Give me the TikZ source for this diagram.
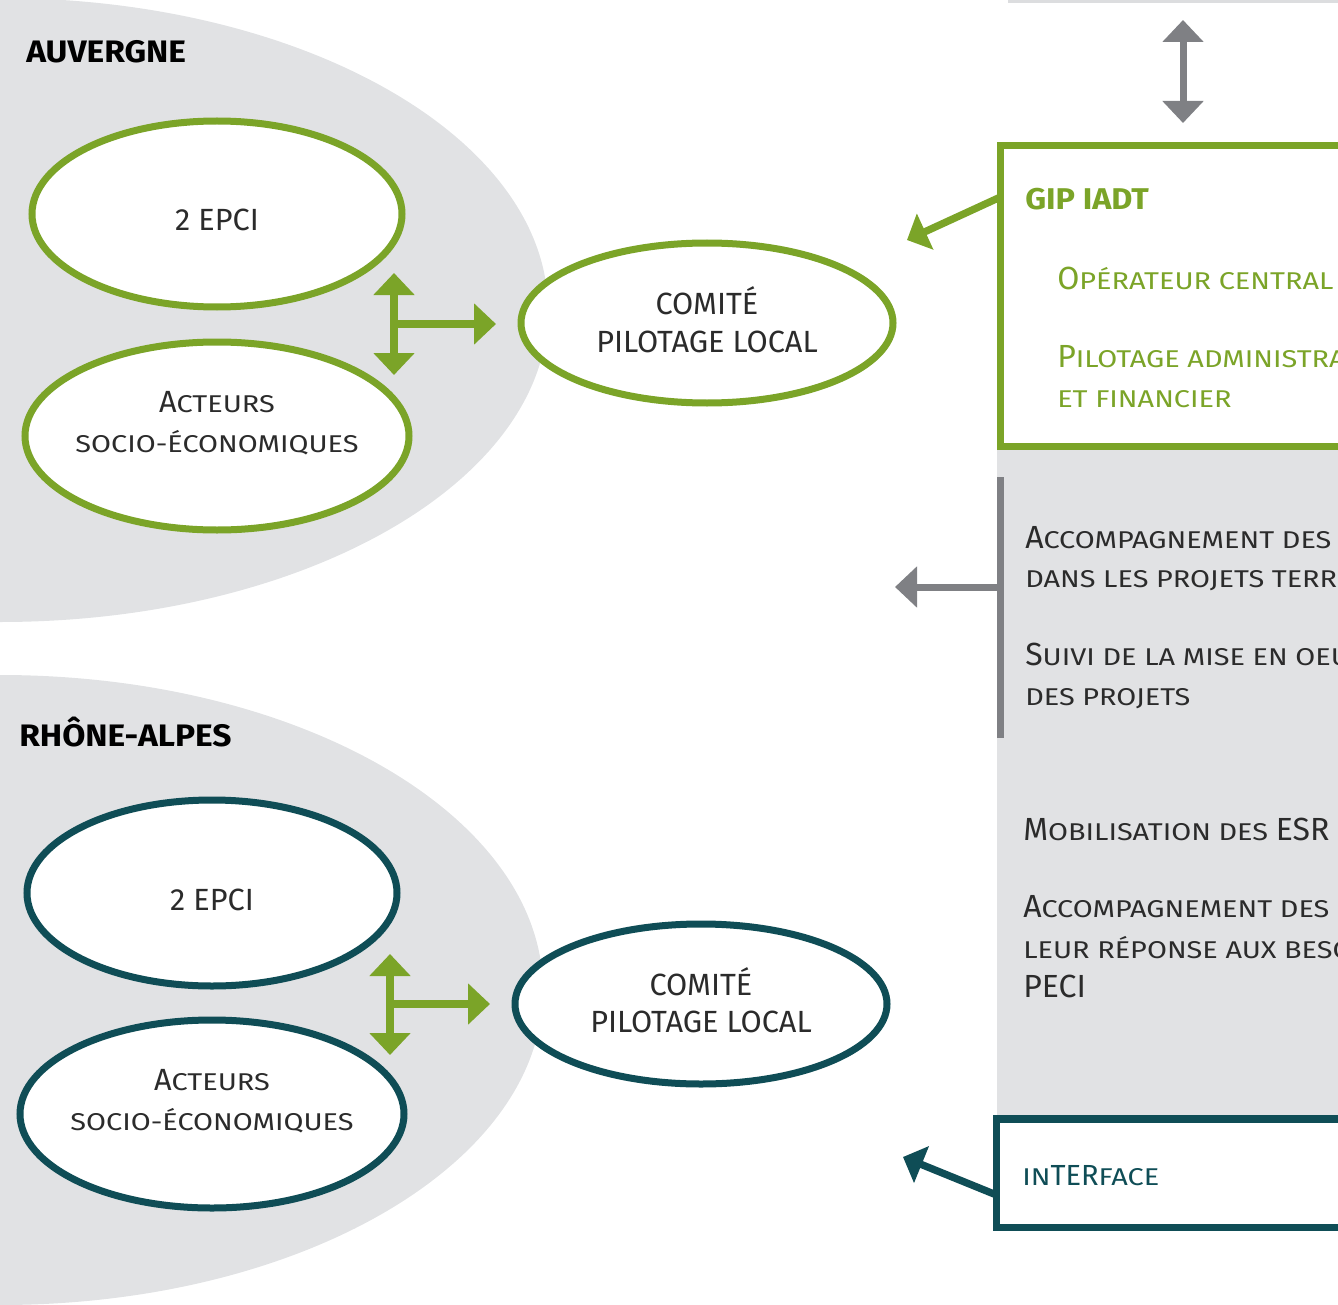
\documentclass[tikz,border=0pt]{standalone}
\usepackage{fontspec}
\setmainfont{Fira Sans}
\newfontfamily\scf[FakeStretch=1.19]{Fira Sans}
\newfontfamily\bdf[FakeStretch=1.08]{Fira Sans}
\usetikzlibrary{arrows.meta,shapes.geometric}
\definecolor{grn}{HTML}{7BA428}
\definecolor{tealc}{HTML}{0F4D56}
\definecolor{blobc}{HTML}{E1E2E4}
\definecolor{garrc}{HTML}{7F8084}
\definecolor{txt}{HTML}{2B2B2B}
\newcommand\ebig{\rmfamily\fontsize{23}{29}\selectfont}
\newcommand\esm{\scf\fontsize{18.2}{29}\selectfont}
\newcommand\rbig{\rmfamily\fontsize{24}{29}\selectfont}
\newcommand\rsm{\scf\fontsize{18.2}{29}\selectfont}
\tikzset{
  bigtip/.tip={Triangle[length=16.5pt, width=30pt]},
  medtip/.tip={Triangle[length=15pt, width=29pt]},
  ell/.style={ellipse, line width=5.25pt, fill=white, inner sep=0pt, outer sep=0pt},
  ellA/.style={ell, draw=grn, minimum width=277.5pt, minimum height=139.5pt},
  ellB/.style={ell, draw=grn, minimum width=288pt, minimum height=141pt},
  ellC/.style={ell, draw=grn, minimum width=279pt, minimum height=120pt},
  etext/.style={anchor=base, text=txt, inner sep=0pt, font=\ebig},
  rtext/.style={anchor=base west, text=txt, inner sep=0pt},
  gtext/.style={anchor=base west, text=grn, inner sep=0pt},
  regionlabel/.style={anchor=base west, text=black, inner sep=0pt, font=\bdf\bfseries\fontsize{23.3}{28}\selectfont},
  grnarrow/.style={draw=grn, line width=6pt},
  grayarrow/.style={draw=garrc, line width=5.25pt},
  boxnode/.style={rectangle, inner sep=0pt, outer sep=0pt, fill=white, anchor=north west, minimum width=300pt}
}
\begin{document}
\begin{tikzpicture}[x=0.75pt, y=-0.75pt]
\begin{scope}
\clip (0,0) rectangle (1338,1305);
% grey regions
\fill[blobc] (0,310) ellipse [x radius=548, y radius=312];
\fill[blobc] (0,990) ellipse [x radius=543, y radius=315];
\fill[blobc!95!gray] (1008,-10) rectangle (1400,3);
\fill[blobc] (997,447) rectangle (1400,1119);
% boxes
\node[boxnode, draw=grn, line width=5.25pt, minimum height=226.1pt] (gip) at (1000.5,145.5) {};
\node[boxnode, draw=tealc, line width=5.5pt, minimum height=81.4pt] (iface) at (996.5,1119) {};
% right texts
\node[gtext, font=\bdf\bfseries\fontsize{22.5}{26}\selectfont] (giptitle) at (1025,210) {GIP IADT};
\node[gtext] (op) at (1057,290) {\rbig O\rsm PÉRATEUR CENTRAL};
\node[gtext] (pil1) at (1057,367) {\rbig P\rsm ILOTAGE ADMINISTRATIF};
\node[gtext] (pil2) at (1057,407) {\rsm ET FINANCIER};
\node[rtext] (acc1) at (1025,548) {\rbig A\rsm CCOMPAGNEMENT DES ACTEURS};
\node[rtext] (acc2) at (1025,587) {\rsm DANS LES PROJETS TERRITORIAUX};
\node[rtext] (suivi1) at (1025,665) {\rbig S\rsm UIVI DE LA MISE EN OEUVRE};
\node[rtext] (suivi2) at (1025,705) {\rsm DES PROJETS};
\node[rtext] (mob) at (1023,840) {\rbig M\rsm OBILISATION DES \rbig ESR};
\node[rtext] (accb1) at (1023,917) {\rbig A\rsm CCOMPAGNEMENT DES \rbig ESR};
\node[rtext] (accb2) at (1023,958) {\rsm LEUR RÉPONSE AUX BESOINS DES};
\node[rtext] (peci) at (1023,997) {\rbig PECI};
\node[anchor=base west, inner sep=0pt, text=tealc] (ifacet) at (1022,1185) {\rsm IN\rmfamily\fontsize{21.8}{24}\selectfont TER\rsm FACE};
% grey vertical bar and arrows
\coordinate (gltop) at (1000,477);
\coordinate (glbot) at (1000,738);
\coordinate (glmid) at (1000,587);
\coordinate (gltip) at (895,587);
\draw[grayarrow] (gltop) -- (glbot);
\draw[grayarrow, -bigtip] (glmid) -- (gltip);
\coordinate (tatop) at (1183,20);
\coordinate (tabot) at (1183,123);
\draw[grayarrow, bigtip-bigtip] (tatop) -- (tabot);
\coordinate (gipout) at (1000.5,197);
\coordinate (giptip) at (907,240);
\draw[grnarrow, line width=5.5pt, -medtip] (gipout) -- (giptip);
\coordinate (ifout) at (996.5,1195);
\coordinate (iftip) at (903,1157);
\draw[draw=tealc, line width=5.5pt, -medtip] (ifout) -- (iftip);
% Auvergne
\node[regionlabel] (auv) at (26,63) {AUVERGNE};
\node[ellA] (a1) at (217,214) {};
\node[ellB] (a2) at (217,436) {};
\node[ellC] (ca) at (707,323) {};
\node[etext] (a1t) at (217,231) {2 EPCI};
\node[etext] (a2t1) at (217,412) {\ebig A\esm CTEURS};
\node[etext] (a2t2) at (217,452) {\esm SOCIO-ÉCONOMIQUES};
\node[etext] (cat1) at (707,315) {COMITÉ};
\node[etext] (cat2) at (707,352) {PILOTAGE LOCAL};
\coordinate (avtop) at (394,273);
\coordinate (avbot) at (394,375);
\coordinate (avmid) at (394,324);
\coordinate (avright) at (496,324);
\draw[grnarrow, bigtip-bigtip] (avtop) -- (avbot);
\draw[grnarrow, -bigtip] (avmid) -- (avright);
% Rhone-Alpes
\node[regionlabel] (rha) at (19,746) {RHÔNE-ALPES};
\node[ellA, draw=tealc] (r1) at (212,893) {};
\node[ellB, draw=tealc] (r2) at (212,1114) {};
\node[ellC, draw=tealc] (cr) at (701,1004) {};
\node[etext] (r1t) at (212,910) {2 EPCI};
\node[etext] (r2t1) at (212,1090) {\ebig A\esm CTEURS};
\node[etext] (r2t2) at (212,1130) {\esm SOCIO-ÉCONOMIQUES};
\node[etext] (crt1) at (701,995) {COMITÉ};
\node[etext] (crt2) at (701,1032) {PILOTAGE LOCAL};
\coordinate (rvtop) at (390,954);
\coordinate (rvbot) at (390,1055);
\coordinate (rvmid) at (390,1004);
\coordinate (rvright) at (490,1004);
\draw[grnarrow, bigtip-bigtip] (rvtop) -- (rvbot);
\draw[grnarrow, -bigtip] (rvmid) -- (rvright);
\end{scope}
\pgfresetboundingbox
\useasboundingbox (0,0) rectangle (1338,1305);
\end{tikzpicture}
\end{document}
